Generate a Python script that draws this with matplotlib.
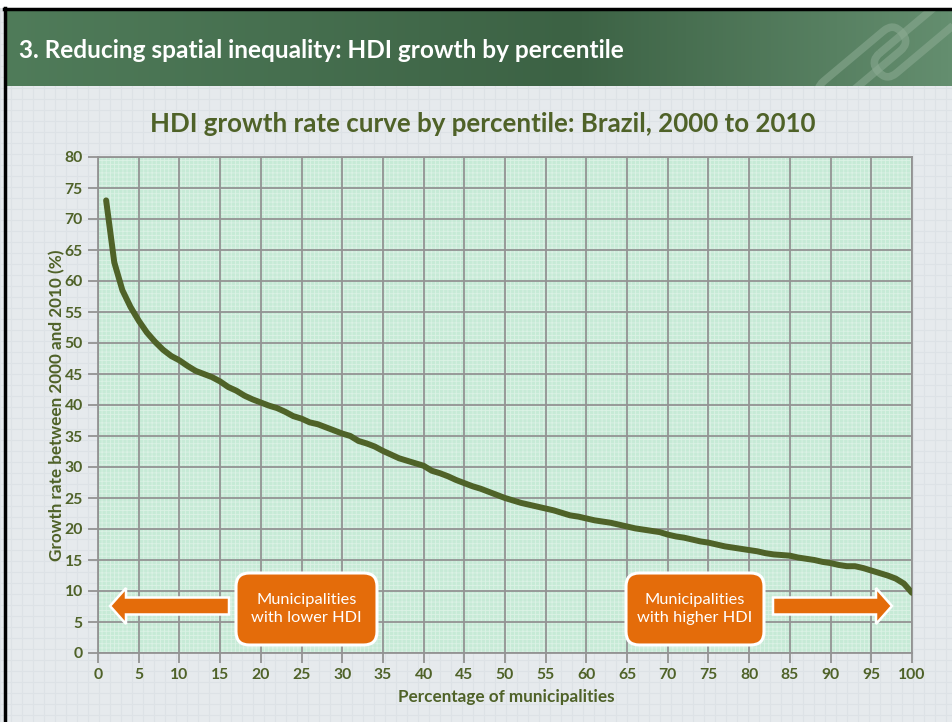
import numpy as np
import matplotlib
matplotlib.use('Agg')
import matplotlib.pyplot as plt
from matplotlib.patches import FancyBboxPatch, FancyArrow, Rectangle
from matplotlib.transforms import Affine2D

# Datos
percentil = list(range(1, 101))
crecimiento = [
    73.0, 63.0, 58.5, 55.8, 53.6, 51.7, 50.2, 48.9, 47.9, 47.2,
    46.3, 45.5, 45.0, 44.5, 43.8, 42.9, 42.3, 41.5, 40.9, 40.4,
    39.9, 39.5, 38.9, 38.2, 37.8, 37.2, 36.9, 36.4, 35.9, 35.4,
    35.0, 34.2, 33.8, 33.3, 32.6, 32.0, 31.4, 31.0, 30.6, 30.2,
    29.4, 29.0, 28.5, 27.9, 27.4, 26.9, 26.5, 26.0, 25.5, 25.0,
    24.6, 24.2, 23.9, 23.6, 23.3, 23.0, 22.6, 22.2, 22.0, 21.7,
    21.4, 21.2, 21.0, 20.7, 20.4, 20.1, 19.9, 19.7, 19.5, 19.1,
    18.8, 18.6, 18.3, 18.0, 17.8, 17.5, 17.2, 17.0, 16.8, 16.6,
    16.4, 16.1, 15.9, 15.8, 15.7, 15.4, 15.2, 15.0, 14.7, 14.5,
    14.2, 14.0, 14.0, 13.7, 13.3, 12.9, 12.5, 12.0, 11.2, 9.7,
]
xticks = list(range(0, 101, 5))
yticks = list(range(0, 81, 5))

encabezado = "3. Reducing spatial inequality: HDI growth by percentile"
titulo = "HDI growth rate curve by percentile: Brazil, 2000 to 2010"
etiqueta_y = "Growth rate between 2000 and 2010 (%)"
etiqueta_x = "Percentage of municipalities"
caja_izq = "Municipalities\nwith lower HDI"
caja_der = "Municipalities\nwith higher HDI"

VERDE = "#4f6228"
NARANJA = "#e46c0a"
FUENTE = ["Lato", "DejaVu Sans"]

W, H = 952, 722
fig = plt.figure(figsize=(W / 100, H / 100), dpi=100)
fig.patch.set_facecolor("#e6eaed")


def px(x, y):
    # pixeles (desde arriba a la izquierda) -> fraccion de figura
    return x / W, 1 - y / H


# Fondo con cuadricula tenue tipo diapositiva
fondo = fig.add_axes([0, 0, 1, 1])
fondo.set_xlim(0, W)
fondo.set_ylim(H, 0)
fondo.axis("off")
fondo.add_patch(Rectangle((0, 0), W, H, facecolor="#e6eaed", edgecolor="none"))
for g in np.arange(0, W, 11):
    fondo.axvline(g, color="#dde2e6", lw=0.8, zorder=1)
for g in np.arange(0, H, 11):
    fondo.axhline(g, color="#dde2e6", lw=0.8, zorder=1)

# Encabezado verde con degradado
grad = np.linspace(0, 1, 256)
c_izq = np.array([0x50, 0x7c, 0x5a]) / 255
c_med = np.array([0x3c, 0x62, 0x44]) / 255
c_der = np.array([0x64, 0x8e, 0x6f]) / 255
colores = np.where(grad[:, None] < 0.6,
                   c_izq + (c_med - c_izq) * (grad[:, None] / 0.6),
                   c_med + (c_der - c_med) * ((grad[:, None] - 0.6) / 0.4))
fondo.imshow(colores[None, :, :], extent=(5, W, 86, 9), aspect="auto", zorder=2)
fondo.add_patch(Rectangle((0, 0), W, 8, facecolor="white", edgecolor="none", zorder=5))
fondo.plot([4.5, 4.5], [8, H], color="black", lw=2.5, zorder=6)
fondo.plot([4, W], [8.5, 8.5], color="black", lw=2.5, zorder=6)

# Eslabones decorativos (recortados al encabezado)
zona = Rectangle((5, 9), W - 5, 77, facecolor="none", edgecolor="none")
fondo.add_patch(zona)
for (cx, cy) in [(862, 66), (918, 38)]:
    eslabon = FancyBboxPatch((-52, -13), 104, 26,
                             boxstyle="round,pad=0,rounding_size=13",
                             facecolor="none", edgecolor="#8dac94", lw=5.5,
                             alpha=0.55, zorder=3)
    fondo.add_patch(eslabon)
    eslabon.set_transform(Affine2D().rotate_deg(-40).translate(cx, cy) + fondo.transData)
    eslabon.set_clip_path(zona)

fondo.text(19, 50, encabezado, color="white", fontsize=17.6, fontweight="bold",
           family=FUENTE, ha="left", va="center", zorder=7)

fig.text(*px(483, 124), titulo, color=VERDE, fontsize=18.6, fontweight="bold",
         family=FUENTE, ha="center", va="center")

# Area del grafico
l, b = px(98, 653)
ax = fig.add_axes([l, b, 814 / W, 496 / H])
ax.set_facecolor("#c6ead6")
plt.rcParams["hatch.linewidth"] = 0.6
ax.add_patch(Rectangle((0, 0), 1, 1, transform=ax.transAxes, facecolor="none",
                       edgecolor="#eef8f2", hatch="++++", lw=0, alpha=0.55, zorder=0))

ax.plot(percentil, crecimiento, color=VERDE, lw=4.3, solid_capstyle="round",
        solid_joinstyle="round", zorder=4)

ax.set_xlim(0, 100)
ax.set_ylim(0, 80)
ax.set_xticks(xticks)
ax.set_yticks(yticks)
ax.grid(True, color="#939393", lw=1.3, zorder=1)
ax.set_axisbelow(True)
for s in ax.spines.values():
    s.set_color("#939393")
    s.set_linewidth(1.3)
ax.tick_params(axis="both", colors="#939393", length=7, width=1.3,
               labelcolor=VERDE, labelsize=11.3)
for t in ax.get_xticklabels() + ax.get_yticklabels():
    t.set_fontweight("bold")
    t.set_family(FUENTE)
ax.tick_params(axis="x", pad=4)
ax.tick_params(axis="y", pad=4)

fig.text(*px(57, 405), etiqueta_y, color=VERDE, fontsize=12.3, fontweight="bold",
         family=FUENTE, rotation=90, ha="center", va="center")
fig.text(*px(506, 697), etiqueta_x, color=VERDE, fontsize=12.3, fontweight="bold",
         family=FUENTE, ha="center", va="center")

# Cajas y flechas naranjas
for (x0, x1, texto) in [(236, 377, caja_izq), (626, 764, caja_der)]:
    bx0, by0 = px(x0, 645)
    bx1, by1 = px(x1, 573)
    caja = FancyBboxPatch((bx0, by0), bx1 - bx0, by1 - by0,
                          boxstyle="round,pad=0,rounding_size=0.014",
                          transform=fig.transFigure, facecolor=NARANJA,
                          edgecolor="white", lw=2.2, zorder=6, mutation_aspect=W / H)
    fig.patches.append(caja)
    fig.text((bx0 + bx1) / 2, (by0 + by1) / 2, texto, color="white", fontsize=11.8,
             family=FUENTE, ha="center", va="center", linespacing=1.3, zorder=7)

for (xt, xp) in [(229, 110), (773, 892)]:
    fx, fy = px(xt, 606)
    dx = (xp - xt) / W
    flecha = FancyArrow(fx, fy, dx, 0, width=17 / H, head_width=36 / H,
                        head_length=16 / W, length_includes_head=True,
                        transform=fig.transFigure, facecolor=NARANJA,
                        edgecolor="white", lw=1.8, zorder=6)
    fig.patches.append(flecha)

fig.savefig("out.png", dpi=100)
